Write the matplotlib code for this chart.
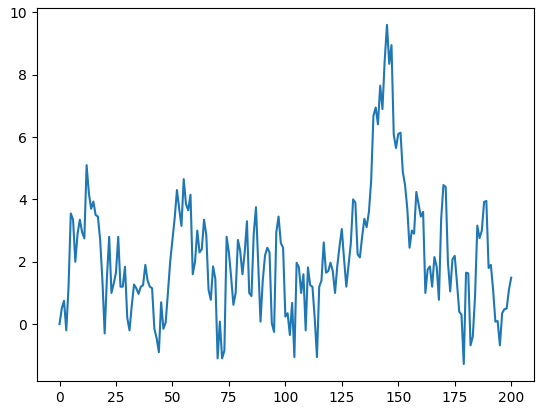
import numpy as np
import matplotlib
matplotlib.use("Agg")
import matplotlib.pyplot as plt

# values, one per step 0..200
values = [
    0.0, 0.5, 0.75, -0.2, 1.2, 3.55, 3.35, 2.0, 2.9, 3.35,
    2.95, 2.75, 5.1, 4.2, 3.7, 3.93, 3.5, 3.45, 2.7, 1.4,
    -0.3, 1.5, 2.8, 1.0, 1.3, 1.65, 2.8, 1.2, 1.2, 1.84,
    0.2, -0.2, 0.6, 1.27, 1.15, 0.97, 1.2, 1.25, 1.9, 1.4,
    1.2, 1.15, -0.15, -0.45, -0.9, 0.7, -0.15, 0.05, 1.0, 2.0,
    2.7, 3.4, 4.3, 3.7, 3.15, 4.65, 3.85, 3.65, 4.15, 1.6,
    2.0, 3.0, 2.3, 2.4, 3.35, 2.85, 1.1, 0.78, 1.85, 1.45,
    -1.1, 0.08, -1.1, -0.85, 2.8, 2.3, 1.5, 0.62, 1.0, 2.7,
    2.35, 1.6, 2.3, 3.3, 1.0, 0.9, 2.9, 3.75, 1.9, 0.08,
    1.4, 2.2, 2.45, 2.3, 0.03, -0.25, 2.95, 3.45, 2.6, 2.45,
    0.24, 0.35, -0.35, 0.68, -1.06, 1.97, 1.82, 1.0, 1.6, -0.2,
    1.82, 1.25, 1.2, 0.2, -1.06, 1.2, 1.4, 2.62, 1.65, 1.7,
    1.97, 1.7, 1.0, 1.87, 2.5, 3.05, 2.08, 1.2, 1.9, 2.6,
    4.0, 3.9, 2.24, 2.14, 2.8, 3.38, 3.11, 3.6, 4.6, 6.68,
    6.95, 6.41, 7.65, 6.9, 8.47, 9.6, 8.35, 8.95, 6.08, 5.65,
    6.1, 6.14, 4.89, 4.46, 3.7, 2.45, 3.0, 2.9, 4.24, 3.85,
    3.45, 3.6, 1.0, 1.75, 1.85, 1.2, 2.15, 1.85, 0.78, 3.38,
    4.46, 4.4, 1.97, 1.05, 2.08, 2.19, 1.32, 0.4, 0.3, -1.28,
    1.65, 1.63, -0.68, -0.4, 0.9, 3.16, 2.76, 3.0, 3.92, 3.95,
    1.8, 1.9, 1.1, 0.08, 0.1, -0.68, 0.35, 0.48, 0.5, 1.1,
    1.49,
]
steps = np.arange(len(values))

fig = plt.figure(figsize=(5.43, 4.15), dpi=100)
ax = fig.add_axes([0.068, 0.082, 0.915, 0.899])
ax.plot(steps, values)

fig.savefig("out.png", dpi=100)
